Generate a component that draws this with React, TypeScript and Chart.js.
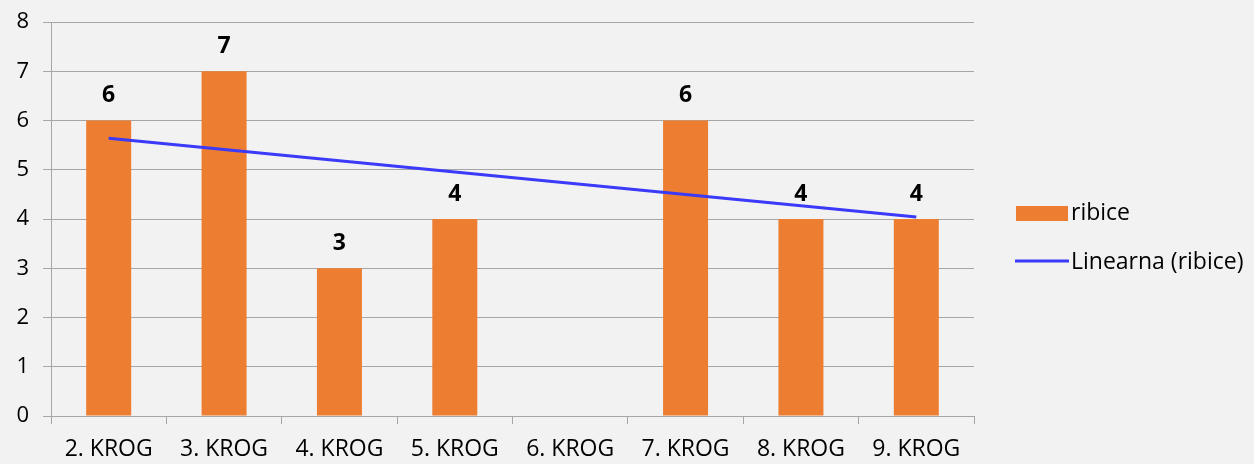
import React, { useEffect, useRef } from "react";
import { Chart, registerables } from "chart.js";

Chart.register(...registerables);

const categories = ["2. KROG", "3. KROG", "4. KROG", "5. KROG", "6. KROG", "7. KROG", "8. KROG", "9. KROG"];
const ribice: (number | null)[] = [6, 7, 3, 4, null, 6, 4, 4];
const trendLine: (number | null)[] = [5.64, null, null, null, null, null, null, 4.04];
const yTicks = [0, 1, 2, 3, 4, 5, 6, 7, 8];
const seriesName = "ribice";
const trendName = "Linearna (ribice)";

const FONT = "'Open Sans', 'Liberation Sans', sans-serif";
const BAR_COLOR = "#ED7D31";
const LINE_COLOR = "#3A3AF8";
const GRID = "#A6A6A6";
const BG = "#F2F2F2";

const bgPlugin = {
  id: "bg",
  beforeDraw(chart: any) {
    const { ctx, width, height } = chart;
    ctx.save();
    ctx.fillStyle = BG;
    ctx.fillRect(0, 0, width, height);
    ctx.restore();
  },
};

const labelPlugin = {
  id: "barLabels",
  afterDatasetsDraw(chart: any) {
    const { ctx } = chart;
    const meta = chart.getDatasetMeta(0);
    ctx.save();
    ctx.font = `bold 23px ${FONT}`;
    ctx.fillStyle = "#000";
    ctx.textAlign = "center";
    ctx.textBaseline = "middle";
    meta.data.forEach((el: any, i: number) => {
      const v = ribice[i];
      if (v === null || v === undefined) return;
      ctx.fillText(String(v), el.x, el.y - 25);
    });
    ctx.restore();
  },
};

const legendPlugin = {
  id: "customLegend",
  afterDraw(chart: any) {
    const { ctx } = chart;
    ctx.save();
    ctx.fillStyle = BAR_COLOR;
    ctx.fillRect(1016, 206, 52, 15);
    ctx.strokeStyle = LINE_COLOR;
    ctx.lineWidth = 3;
    ctx.beginPath();
    ctx.moveTo(1015, 261);
    ctx.lineTo(1069, 261);
    ctx.stroke();
    ctx.fillStyle = "#000";
    ctx.font = `23px ${FONT}`;
    ctx.textAlign = "left";
    ctx.textBaseline = "middle";
    ctx.fillText(seriesName, 1071, 213);
    ctx.fillText(trendName, 1071, 262);
    ctx.restore();
  },
};

export default function App() {
  const ref = useRef<HTMLCanvasElement | null>(null);

  useEffect(() => {
    document.body.style.margin = "0";
    document.body.style.background = BG;
    if (!ref.current) return;
    const chart = new Chart(ref.current, {
      type: "bar",
      data: {
        labels: categories,
        datasets: [
          {
            type: "bar",
            label: seriesName,
            data: ribice,
            backgroundColor: BAR_COLOR,
            categoryPercentage: 1,
            barPercentage: 0.39,
            order: 2,
          },
          {
            type: "line",
            label: trendName,
            data: trendLine,
            borderColor: LINE_COLOR,
            borderWidth: 3,
            pointRadius: 0,
            spanGaps: true,
            fill: false,
            order: 1,
          } as any,
        ],
      },
      options: {
        animation: false,
        responsive: false,
        maintainAspectRatio: false,
        layout: { padding: { top: 22, right: 280, left: 0, bottom: 0 } },
        plugins: {
          legend: { display: false },
          tooltip: { enabled: false },
        },
        scales: {
          x: {
            offset: true,
            grid: {
              offset: true,
              drawOnChartArea: false,
              tickLength: 8,
              color: GRID,
              lineWidth: 1,
            },
            border: { color: GRID, width: 1 },
            ticks: {
              color: "#000",
              font: { family: FONT, size: 23 },
              padding: 12,
              maxRotation: 0,
            },
            afterFit(scale: any) {
              scale.height = 48;
              scale.paddingLeft = 0;
              scale.paddingRight = 0;
            },
          },
          y: {
            min: 0,
            max: 8,
            afterBuildTicks(scale: any) {
              scale.ticks = yTicks.map((v) => ({ value: v }));
            },
            grid: { color: GRID, lineWidth: 1, tickLength: 8 },
            border: { color: GRID, width: 1 },
            ticks: {
              color: "#000",
              font: { family: FONT, size: 22 },
              padding: 14,
            },
            afterFit(scale: any) {
              scale.width = 51;
              scale.paddingTop = 0;
              scale.paddingBottom = 0;
            },
          },
        },
      },
      plugins: [bgPlugin, labelPlugin, legendPlugin],
    });
    return () => chart.destroy();
  }, []);

  return <canvas ref={ref} width={1254} height={464} style={{ display: "block" }} />;
}
